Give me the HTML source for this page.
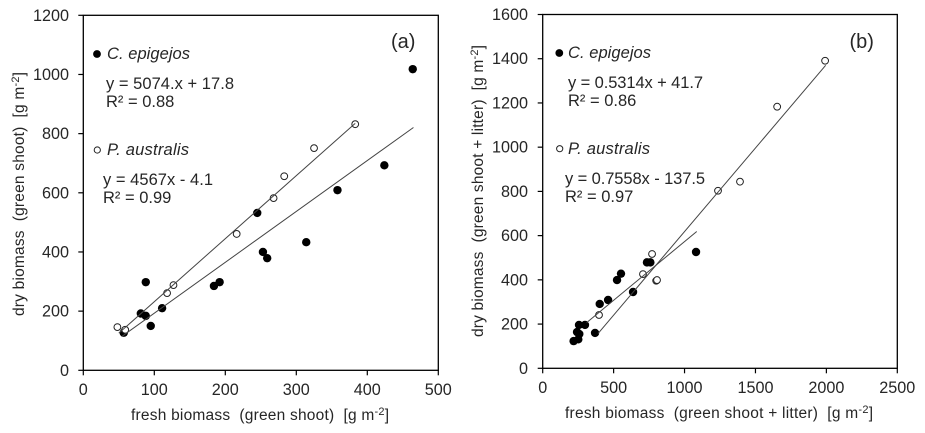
<!DOCTYPE html>
<html>
<head>
<meta charset="utf-8">
<style>
html,body{margin:0;padding:0;background:#fff;}
svg{display:block;}
text{font-family:"Liberation Sans",Arial,sans-serif;fill:#262626;white-space:pre;}
.tick{font-size:16.2px;}
.title{font-size:15.5px;}
.note{font-size:16.5px;}
.sp{font-style:italic;font-size:16.5px;}
.tag{font-size:20px;}
</style>
</head>
<body>
<svg id="chart" width="925" height="433" viewBox="0 0 925 433" xmlns="http://www.w3.org/2000/svg">
  <rect x="0" y="0" width="925" height="433" fill="#fff"/>
  <g id="panel-a"></g>
  <g id="panel-b"></g>

  <text class="title" x="131" y="420" textLength="258">fresh biomass  (green shoot)  [g m<tspan dy="-5" font-size="11">-2</tspan><tspan dy="5">]</tspan></text>
  <text class="title" transform="translate(24,316) rotate(-90)" textLength="244">dry biomass  (green shoot)  [g m<tspan dy="-5" font-size="11">-2</tspan><tspan dy="5">]</tspan></text>
  <text class="tag" x="391" y="48">(a)</text>
  <circle cx="97" cy="54" r="3.9" fill="#000"/>
  <text class="sp" x="107" y="59" textLength="83">C. epigejos</text>
  <text class="note" x="106" y="89" textLength="128">y = 5074.x + 17.8</text>
  <text class="note" x="106" y="107">R² = 0.88</text>
  <circle cx="97.3" cy="150" r="3.1" fill="#fff" stroke="#222" stroke-width="1"/>
  <text class="sp" x="107" y="155" textLength="82">P. australis</text>
  <text class="note" x="103" y="185" textLength="110">y = 4567x - 4.1</text>
  <text class="note" x="103" y="203">R² = 0.99</text>

  <text class="title" x="565" y="418" textLength="308">fresh biomass  (green shoot + litter)  [g m<tspan dy="-5" font-size="11">-2</tspan><tspan dy="5">]</tspan></text>
  <text class="title" transform="translate(483,337) rotate(-90)" textLength="292">dry biomass  (green shoot + litter)  [g m<tspan dy="-5" font-size="11">-2</tspan><tspan dy="5">]</tspan></text>
  <text class="tag" x="849.5" y="48">(b)</text>
  <circle cx="559.3" cy="53" r="3.9" fill="#000"/>
  <text class="sp" x="568" y="58" textLength="83">C. epigejos</text>
  <text class="note" x="568" y="88" textLength="135">y = 0.5314x + 41.7</text>
  <text class="note" x="568" y="106">R² = 0.86</text>
  <circle cx="559.7" cy="148.7" r="3.1" fill="#fff" stroke="#222" stroke-width="1"/>
  <text class="sp" x="568" y="154" textLength="82">P. australis</text>
  <text class="note" x="565" y="184" textLength="140">y = 0.7558x - 137.5</text>
  <text class="note" x="565" y="202">R² = 0.97</text>
</svg>
<script>
// Panel (a) data
const aXTicks = [0, 100, 200, 300, 400, 500];
const aYTicks = [0, 200, 400, 600, 800, 1000, 1200];
const aFilledX = [88, 81, 88, 95, 111, 57, 184, 192, 245, 253, 259, 314, 358, 424, 464];
const aFilledY = [298, 192, 184, 150, 210, 127, 285, 298, 532, 400, 379, 433, 609, 693, 1018];
const aOpenX = [48, 59, 118, 127, 216, 268, 283, 325, 383];
const aOpenY = [146, 137, 261, 288, 461, 582, 656, 751, 832];
const aFilledFit = [1.72, 21, 54, 465];
const aOpenFit = [2.13, 19, 50, 383];

// Panel (b) data
const bXTicks = [0, 500, 1000, 1500, 2000, 2500];
const bYTicks = [0, 200, 400, 600, 800, 1000, 1200, 1400, 1600];
const bFilledX = [1081, 735, 759, 552, 524, 637, 461, 402, 369, 298, 256, 242, 258, 251, 218];
const bFilledY = [526, 479, 479, 428, 399, 345, 309, 291, 160, 196, 196, 164, 155, 131, 123];
const bOpenX = [771, 707, 800, 806, 397, 1236, 1391, 1653, 1991];
const bOpenY = [517, 426, 396, 399, 241, 803, 844, 1183, 1391];
const bFilledFit = [0.5314, 41.7, 310, 1086];
const bOpenFit = [0.7558, -137.5, 390, 1995];

const NS = 'http://www.w3.org/2000/svg';

function make(parent, tag, attrs) {
  const el = document.createElementNS(NS, tag);
  for (const k in attrs) el.setAttribute(k, attrs[k]);
  parent.appendChild(el);
  return el;
}

function drawPanel(root, box, xTicks, yTicks, fx, fy, ox, oy, fFit, oFit) {
  const xMax = xTicks[xTicks.length - 1];
  const yMax = yTicks[yTicks.length - 1];
  const sx = v => box.left + (v / xMax) * (box.right - box.left);
  const sy = v => box.bottom - (v / yMax) * (box.bottom - box.top);

  fx.forEach((v, i) => {
    const c = make(root, 'circle', {cx: sx(v), cy: sy(fy[i]), r: 4.2, fill: '#000'});
    
    
  });
  ox.forEach((v, i) => {
    const c = make(root, 'circle', {cx: sx(v), cy: sy(oy[i]), r: 3.4, fill: '#fff', stroke: '#222', 'stroke-width': 1});
    
    
  });

  const f1 = make(root, 'line', {x1: sx(fFit[2]), y1: sy(fFit[0] * fFit[2] + fFit[1]), x2: sx(fFit[3]), y2: sy(fFit[0] * fFit[3] + fFit[1]), stroke: '#444', 'stroke-width': 1});
  
  
  const f2 = make(root, 'line', {x1: sx(oFit[2]), y1: sy(oFit[0] * oFit[2] + oFit[1]), x2: sx(oFit[3]), y2: sy(oFit[0] * oFit[3] + oFit[1]), stroke: '#444', 'stroke-width': 1});
  
  

  const frame = make(root, 'rect', {x: box.left, y: box.top, width: box.right - box.left, height: box.bottom - box.top, fill: 'none', stroke: '#000', 'stroke-width': 1.3});
  
  

  xTicks.forEach(v => {
    const t = make(root, 'line', {x1: sx(v), x2: sx(v), y1: box.bottom, y2: box.bottom + 5, stroke: '#000', 'stroke-width': 1.2});
    
    
    const l = make(root, 'text', {x: sx(v), y: box.xLabelY, 'text-anchor': 'middle', class: 'tick'});
    
    
    l.textContent = v;
  });
  yTicks.forEach(v => {
    const t = make(root, 'line', {x1: box.left - 5, x2: box.left, y1: sy(v), y2: sy(v), stroke: '#000', 'stroke-width': 1.2});
    
    
    const l = make(root, 'text', {x: box.yLabelX, y: sy(v) + 5.5, 'text-anchor': 'end', class: 'tick'});
    
    
    l.textContent = v;
  });
}

drawPanel(document.getElementById('panel-a'),
  {left: 83.3, right: 438.3, top: 15.3, bottom: 370.3, xLabelY: 395, yLabelX: 69},
  aXTicks, aYTicks, aFilledX, aFilledY, aOpenX, aOpenY, aFilledFit, aOpenFit);
drawPanel(document.getElementById('panel-b'),
  {left: 542.7, right: 897.3, top: 14.5, bottom: 368.3, xLabelY: 393, yLabelX: 528},
  bXTicks, bYTicks, bFilledX, bFilledY, bOpenX, bOpenY, bFilledFit, bOpenFit);
</script>
</body>
</html>
